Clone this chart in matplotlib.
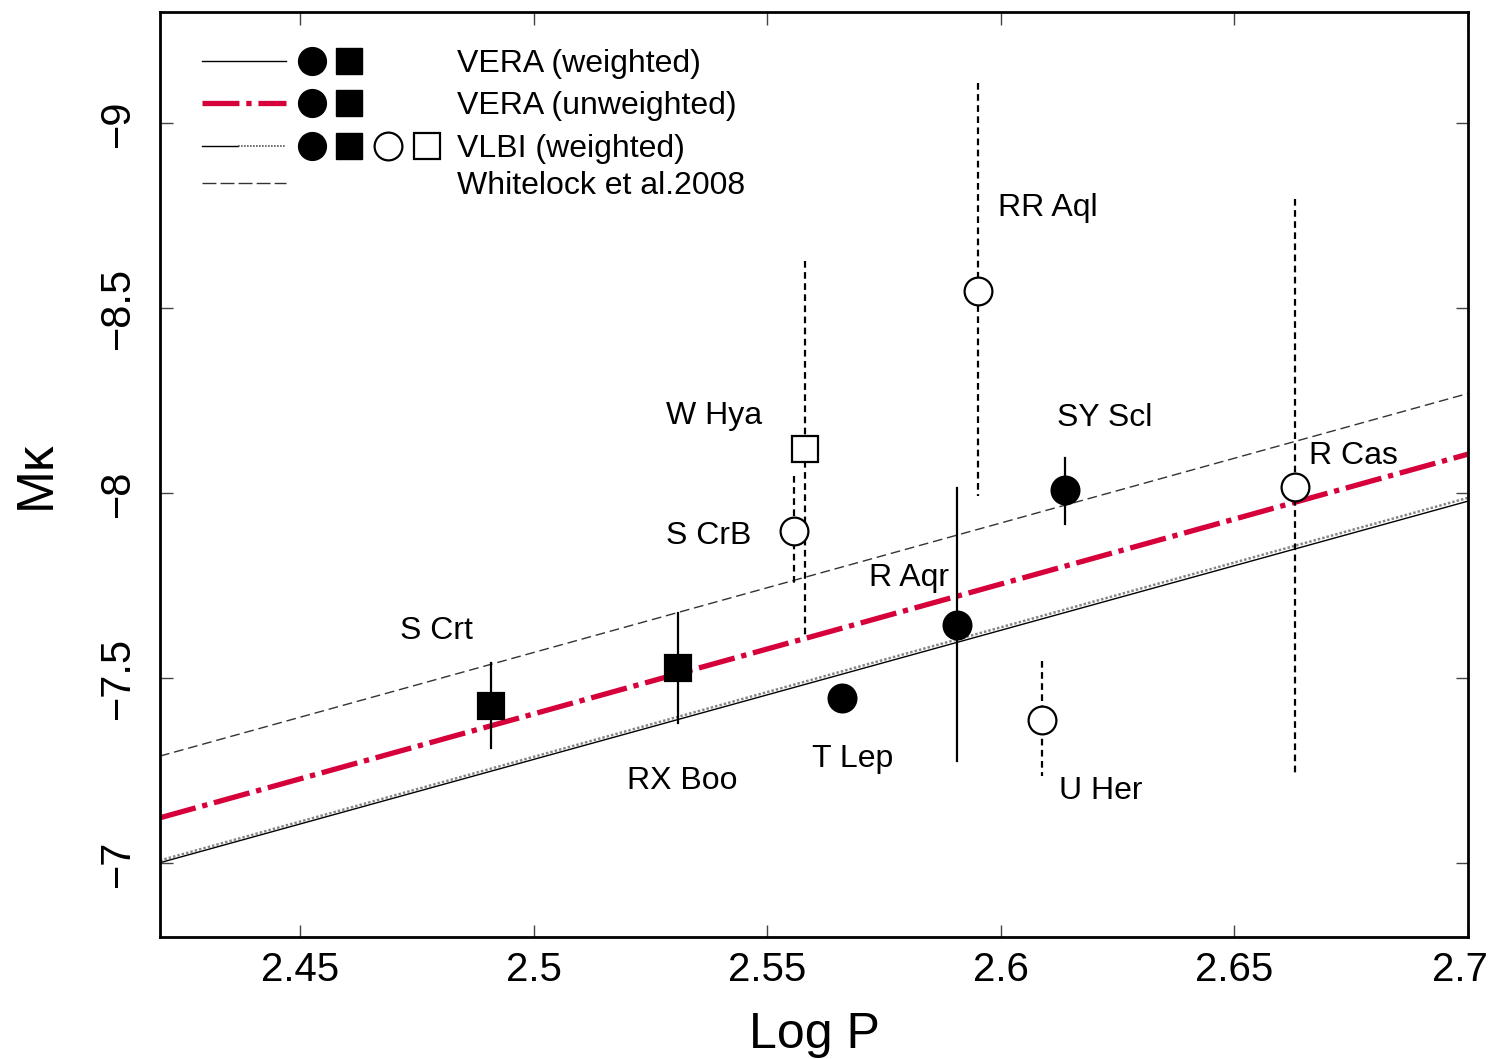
import matplotlib
matplotlib.use("Agg")
import matplotlib.pyplot as plt
import matplotlib.transforms as mtransforms
import numpy as np

plt.rcParams['font.family'] = ['Liberation Sans', 'DejaVu Sans']

# ---- data ----
names = ["S Crt", "RX Boo", "T Lep", "R Aqr", "SY Scl",
         "S CrB", "W Hya", "RR Aql", "U Her", "R Cas"]
logP = [2.4908, 2.5308, 2.5659, 2.5907, 2.6138,
        2.5558, 2.5580, 2.5950, 2.6089, 2.6630]
MK = [-7.424, -7.527, -7.446, -7.643, -8.008,
      -7.897, -8.119, -8.546, -7.386, -8.016]
err_lo = [-7.54, -7.676, -7.446, -8.014, -8.095,
          -8.046, -8.627, -9.108, -7.546, -8.795]
err_hi = [-7.31, -7.378, -7.446, -7.276, -7.916,
          -7.749, -7.614, -7.992, -7.235, -7.235]
marker = ["s", "s", "o", "o", "o", "o", "s", "o", "o", "o"]
filled = [True, True, True, True, True, False, False, False, False, False]
label_x = [2.4713, 2.5199, 2.5595, 2.5717, 2.6121,
           2.5284, 2.5284, 2.5993, 2.6125, 2.6660]
label_y = [-7.626, -7.221, -7.280, -7.770, -8.202,
           -7.883, -8.208, -8.770, -7.194, -8.099]

# PL relations: M = slope*(logP - 2.5) + zero
fit_names = ["VERA (weighted)", "VERA (unweighted)", "VLBI (weighted)", "Whitelock et al.2008"]
fit_slope = [-3.49, -3.51, -3.50, -3.50]
fit_zero = [-7.280, -7.403, -7.287, -7.569]

xlim = (2.42, 2.70)
ylim = (-6.8, -9.3)
xticks = [2.45, 2.5, 2.55, 2.6, 2.65, 2.7]
xticklabels = ["2.45", "2.5", "2.55", "2.6", "2.65", "2.7"]
yticks = [-9, -8.5, -8, -7.5, -7]
yticklabels = ["\u22129", "\u22128.5", "\u22128", "\u22127.5", "\u22127"]

fig = plt.figure(figsize=(14.93, 10.59), dpi=100)
ax = fig.add_axes([160/1493, 1-937/1059, 1308/1493, 925/1059])

xx = np.array(xlim)
styles = [
    dict(color="black", lw=1.0, ls="-"),
    dict(color="#d6003a", lw=3.8, ls=(0, (7, 1.3, 1, 1.3))),
    dict(color="#888888", lw=1.8, ls=(0, (1, 0.8))),
    dict(color="#333333", lw=1.0, ls=(0, (7, 3.5))),
]
for s, z, st in zip(fit_slope, fit_zero, styles):
    ax.plot(xx, s*(xx-2.5)+z, zorder=2, **st)

# error bars and points
for i in range(len(names)):
    ls = "-" if filled[i] else (0, (3, 2))
    ax.plot([logP[i], logP[i]], [err_lo[i], err_hi[i]], color="black",
            lw=1.6, ls=ls, zorder=3)
for i in range(len(names)):
    ax.plot(logP[i], MK[i], marker=marker[i], ms=20 if marker[i] == "o" else 19,
            mfc="black" if filled[i] else "white", mec="black", mew=1.6,
            ls="none", zorder=4)
    ax.text(label_x[i], label_y[i], names[i], fontsize=23, ha="left",
            va="center", zorder=5)

ax.set_xlim(*xlim)
ax.set_ylim(*ylim)
ax.set_xticks(xticks)
ax.set_xticklabels(xticklabels, fontsize=29)
ax.set_yticks(yticks)
ax.set_yticklabels(yticklabels, fontsize=30, rotation=90, va="center")
ax.tick_params(direction="in", length=9, width=1.0, top=True, right=True,
               color="#444444", pad=10)
ax.tick_params(axis="y", pad=16)
# nudge last x tick label so it stays inside the figure
last = ax.get_xticklabels()[-1]
last.set_transform(last.get_transform() +
                   mtransforms.ScaledTranslation(-8/100, 0, fig.dpi_scale_trans))
for sp in ax.spines.values():
    sp.set_linewidth(2.0)
ax.set_xlabel("Log P", fontsize=36, labelpad=17)
ax.set_ylabel("M\u1d0b", fontsize=37, labelpad=27,
              family=['Liberation Sans', 'DejaVu Sans'])

# ---- legend (drawn by hand) ----
T = ax.transAxes
rows_y = [0.947, 0.9016, 0.8551, 0.8151]
lx0, lx1 = 0.0321, 0.0963
for k, y in enumerate(rows_y):
    st = dict(styles[k])
    if k == 2:
        ax.plot([lx0, 0.060], [y, y], transform=T, color="black", lw=1.0)
        ax.plot([0.060, lx1], [y, y], transform=T, color="#555555", lw=1.2,
                ls=(0, (1, 0.8)))
    elif k == 3:
        ax.plot([lx0, lx1], [y, y], transform=T, color="#333333", lw=1.0,
                ls=(0, (10, 3)))
    else:
        ax.plot([lx0, lx1], [y, y], transform=T, **st)
    ax.text(0.2271, y - 0.003, fit_names[k], transform=T, fontsize=23,
            ha="left", va="center")
mk_x = [0.1162, 0.1445, 0.1743, 0.2041]
for k in range(3):
    ax.plot(mk_x[0], rows_y[k], "o", ms=20, mfc="black", mec="black",
            transform=T)
    ax.plot(mk_x[1], rows_y[k], "s", ms=19, mfc="black", mec="black",
            transform=T)
ax.plot(mk_x[2], rows_y[2], "o", ms=20, mfc="white", mec="black", mew=1.6,
        transform=T)
ax.plot(mk_x[3], rows_y[2], "s", ms=19, mfc="white", mec="black", mew=1.6,
        transform=T)

fig.savefig("out.png", dpi=100)
